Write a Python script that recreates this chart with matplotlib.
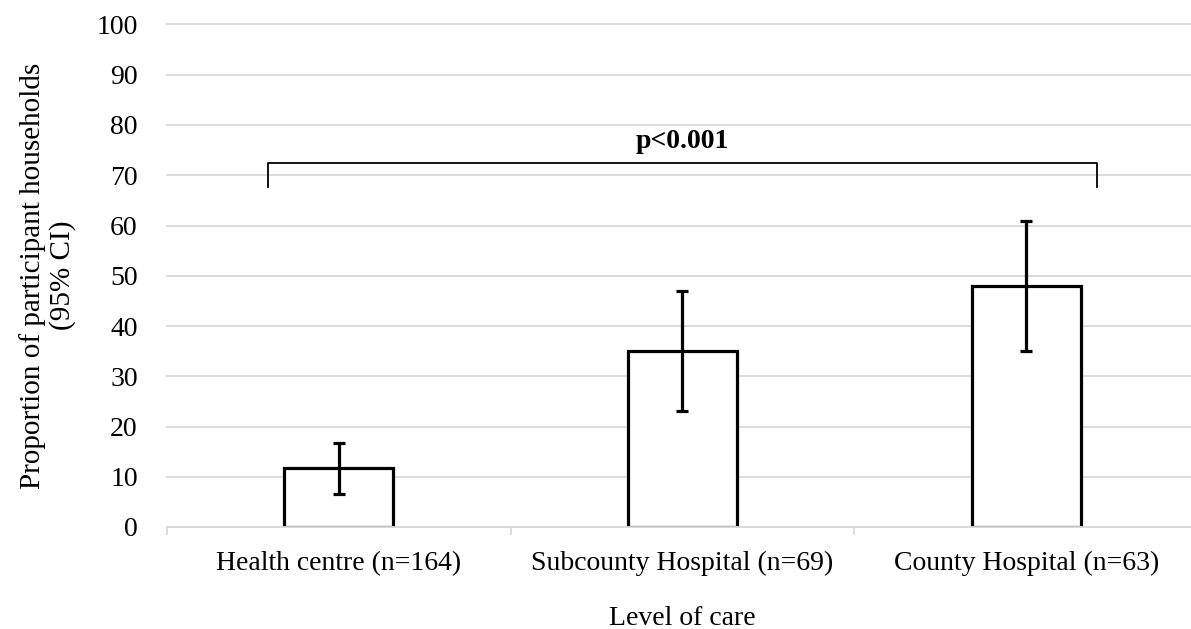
import matplotlib
matplotlib.use("Agg")
import matplotlib.pyplot as plt
import numpy as np

categories = ["Health centre (n=164)", "Subcounty Hospital (n=69)", "County Hospital (n=63)"]
values = [11.7, 35.1, 48.0]
ci_lower = [6.6, 23.1, 35.0]
ci_upper = [16.8, 46.9, 60.9]
yticks = [0, 10, 20, 30, 40, 50, 60, 70, 80, 90, 100]
p_text = "p<0.001"

plt.rcParams['font.family'] = ['Liberation Serif', 'DejaVu Serif']
FS = 20

fig = plt.figure(figsize=(11.91, 6.29), dpi=100)
ax = fig.add_axes([167/1191, 1-527/629, (1198-167)/1191, (527-24.5)/629])

x = np.arange(len(categories))
vals = np.array(values)
yerr = np.array([vals - np.array(ci_lower), np.array(ci_upper) - vals])

ax.set_axisbelow(True)
ax.grid(axis='y', color='#d9d9d9', linewidth=1.3)
ax.bar(x, vals, width=0.317, facecolor='white', edgecolor='black', linewidth=2.3, zorder=2)
ax.errorbar(x, vals, yerr=yerr, fmt='none', ecolor='black', elinewidth=2.3,
            capsize=4.5, capthick=2.3, zorder=3)

ax.set_xlim(-0.5, 2.5)
ax.set_ylim(0, 100)
ax.set_yticks(yticks)
ax.set_xticks(x)
ax.set_xticklabels(categories)
ax.set_xticks([-0.5, 0.5, 1.5, 2.5], minor=True)
ax.tick_params(axis='x', which='major', length=0, pad=17, labelsize=FS)
ax.tick_params(axis='x', which='minor', length=6, width=1.3, color='#d9d9d9', direction='out')
ax.tick_params(axis='y', length=0, pad=21, labelsize=FS)
for gl in ax.get_ygridlines():
    gl.set_clip_on(False)

for s in ['top', 'right', 'left']:
    ax.spines[s].set_visible(False)
ax.spines['bottom'].set_color('#d9d9d9')
ax.spines['bottom'].set_linewidth(1.3)

ax.set_xlabel("Level of care", fontsize=FS, labelpad=22)
ax.set_ylabel("Proportion of participant households\n(95% CI)", fontsize=21, labelpad=15,
              linespacing=1.12)

# significance bracket
bx = [-0.206, -0.206, 2.207, 2.207]
by = [67.7, 72.4, 72.4, 67.7]
ax.plot(bx, by, color='black', linewidth=1.3, zorder=4, clip_on=False)
ax.text(1, 74.3, p_text, ha='center', va='bottom', fontsize=FS, fontweight='bold')

fig.savefig("out.png", dpi=100)
